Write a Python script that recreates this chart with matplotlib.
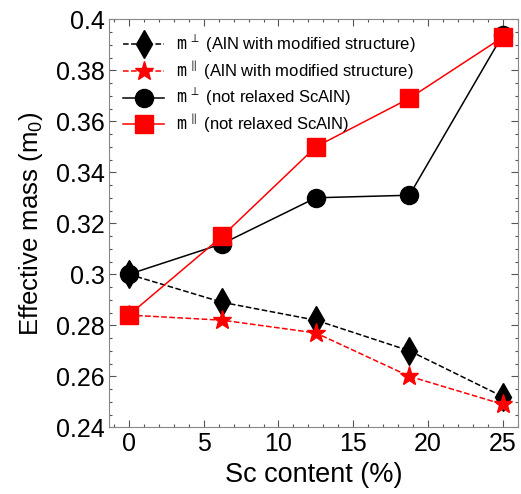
import matplotlib as mpl
mpl.use('Agg')
import matplotlib.pyplot as plt
from matplotlib.ticker import MultipleLocator

plt.rcParams['font.family'] = ['Liberation Sans', 'DejaVu Sans']
plt.rcParams['mathtext.fontset'] = 'custom'
plt.rcParams['mathtext.rm'] = 'Liberation Sans'
plt.rcParams['mathtext.tt'] = 'DejaVu Sans Mono'

sc_content = [0, 6.25, 12.5, 18.75, 25]
m_perp_mod = [0.300, 0.289, 0.282, 0.270, 0.252]
m_par_mod = [0.284, 0.282, 0.277, 0.260, 0.249]
m_perp_nr = [0.300, 0.312, 0.330, 0.331, 0.394]
m_par_nr = [0.284, 0.315, 0.350, 0.369, 0.393]

labels = [r'$\mathtt{m}^{\,\perp}$ (AlN with modified structure)',
          r'$\mathtt{m}^{\,\parallel}$ (AlN with modified structure)',
          r'$\mathtt{m}^{\,\perp}$ (not relaxed ScAlN)',
          r'$\mathtt{m}^{\,\parallel}$ (not relaxed ScAlN)']

fig = plt.figure(figsize=(5.21, 4.94), dpi=100)
ax = fig.add_axes([0.21, 0.135, 0.784, 0.826])

ax.plot(sc_content, m_perp_mod, 'k--', marker='d', markersize=14, lw=1.1, label=labels[0])
ax.plot(sc_content, m_par_mod, 'r--', marker='*', markersize=14, lw=1.1, label=labels[1])
ax.plot(sc_content, m_perp_nr, 'k-', marker='o', markersize=13, lw=1.1, label=labels[2])
ax.plot(sc_content, m_par_nr, 'r-', marker='s', markersize=13, lw=1.1, label=labels[3])

ax.set_xlim(-1.3, 26)
ax.set_ylim(0.24, 0.4)
ax.xaxis.set_major_locator(MultipleLocator(5))
ax.xaxis.set_minor_locator(MultipleLocator(1))
ax.yaxis.set_major_locator(MultipleLocator(0.02))
ax.yaxis.set_minor_locator(MultipleLocator(0.005))
ax.set_yticks([0.24, 0.26, 0.28, 0.3, 0.32, 0.34, 0.36, 0.38, 0.4])
ax.set_yticklabels(['0.24', '0.26', '0.28', '0.3', '0.32', '0.34', '0.36', '0.38', '0.4'])
ax.tick_params(which='both', direction='in', top=True, right=True, labelsize=18, color='#555555')
ax.tick_params(which='major', length=5, width=0.8)
ax.tick_params(which='minor', length=2.5, width=0.8)
for s in ax.spines.values():
    s.set_color('#888888')

ax.set_xlabel('Sc content (%)', fontsize=19.5)
ax.set_ylabel(r'Effective mass (m$_0$)', fontsize=18.5, labelpad=8)

ax.legend(loc='upper left', frameon=False, fontsize=12, handlelength=2.5,
          handletextpad=0.7, labelspacing=0.25, borderaxespad=0.4)

plt.savefig('out.png', dpi=100)
